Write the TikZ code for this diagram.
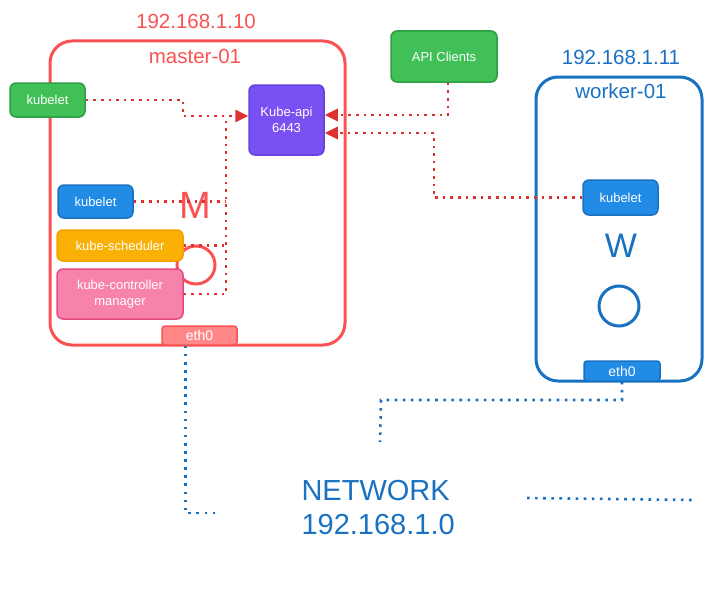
\documentclass[tikz,border=0pt]{standalone}
\usepackage{fontspec}
\setmainfont{Liberation Sans}
\usetikzlibrary{arrows.meta}

\definecolor{hostred}{HTML}{FA5252}
\definecolor{linkred}{HTML}{E03131}
\definecolor{hostblue}{HTML}{1971C2}
\definecolor{boxgreen}{HTML}{40C057}
\definecolor{edgegreen}{HTML}{2F9E44}
\definecolor{boxpurple}{HTML}{7950F2}
\definecolor{edgepurple}{HTML}{6741D9}
\definecolor{boxblue}{HTML}{228BE6}
\definecolor{boxorange}{HTML}{FAB005}
\definecolor{edgeorange}{HTML}{F59F00}
\definecolor{boxpink}{HTML}{F783AC}
\definecolor{edgepink}{HTML}{E64980}
\definecolor{ethred}{HTML}{FF8787}

\tikzset{
  comp/.style={rounded corners=6pt, line width=1.5pt, text=white, inner sep=0pt,
    align=center, font=\fontsize{13}{16}\selectfont},
  host/.style={rounded corners=22pt, line width=3pt, inner sep=0pt},
  hostlabel/.style={font=\fontsize{20.5}{23}\selectfont},
  link/.style={draw=linkred, line width=2.6pt, dash pattern=on 2.6pt off 5pt},
  tip/.style={-{Triangle[length=13pt,width=12pt]}},
  net/.style={draw=hostblue, line width=2.6pt, dash pattern=on 2.6pt off 5.5pt}
}

\begin{document}
\begin{tikzpicture}[x=1pt,y=-1pt]
  \useasboundingbox (0,0) rectangle (711,602);

  % master-01
  \node[host, draw=hostred, minimum width=295, minimum height=304](master) at (197.5,193) {};
  \node[hostlabel, text=hostred](masterip)   at (196,21) {192.168.1.10};
  \node[hostlabel, text=hostred](mastername) at (195,56) {master-01};
  \node[font=\fontsize{38}{40}\selectfont, text=hostred](mletter) at (195,205) {M};
  \node[circle, draw=hostred, line width=3pt, minimum size=38](mcircle) at (196,265) {};

  \node[comp, fill=boxgreen,  draw=edgegreen,  minimum width=75,  minimum height=34](kubeletG) at (47.5,100) {kubelet};
  \node[comp, fill=boxpurple, draw=edgepurple, minimum width=75,  minimum height=70](kubeapi)  at (286.5,120) {Kube-api\\6443};
  \node[comp, fill=boxblue,   draw=hostblue,   minimum width=75,  minimum height=33](kubeletB) at (95.5,201.5) {kubelet};
  \node[comp, fill=boxorange, draw=edgeorange, minimum width=126, minimum height=31](sched)    at (120,245.5) {kube-scheduler};
  \node[comp, fill=boxpink,   draw=edgepink,   minimum width=126, minimum height=50](ctrl)     at (120,294) {kube-controller\\manager};
  \node[comp, rounded corners=3pt, fill=ethred, draw=hostred, minimum width=75, minimum height=19,
        font=\fontsize{14}{16}\selectfont](ethM) at (199.5,335.5) {eth0};

  % worker-01
  \node[host, draw=hostblue, minimum width=166, minimum height=304](worker) at (619,229) {};
  \node[hostlabel, text=hostblue](workerip)   at (621,57) {192.168.1.11};
  \node[hostlabel, text=hostblue](workername) at (621,91) {worker-01};
  \node[font=\fontsize{34}{36}\selectfont, text=hostblue](wletter) at (621,246) {W};
  \node[circle, draw=hostblue, line width=3pt, minimum size=40](wcircle) at (619,306) {};

  \node[comp, fill=boxblue, draw=hostblue, minimum width=75, minimum height=35](kubeletW) at (620.5,197.5) {kubelet};
  \node[comp, rounded corners=3pt, fill=boxblue, draw=hostblue, minimum width=76, minimum height=20,
        font=\fontsize{14}{16}\selectfont](ethW) at (622,371) {eth0};

  \node[comp, fill=boxgreen, draw=edgegreen, minimum width=106, minimum height=51](apiclients) at (444,56.5) {API Clients};

  \node[align=left, anchor=west, text=hostblue, font=\fontsize{29}{34}\selectfont](network) at (298,508) {NETWORK\\192.168.1.0};

  \coordinate (bendG) at (183,116);
  \coordinate (trunk) at (226,116);
  \coordinate (bendW) at (434,165);
  \coordinate (netA)  at (215,513);
  \coordinate (netB)  at (381,400);
  \coordinate (netC)  at (380,442);
  \coordinate (netD)  at (527,498);
  \coordinate (netE)  at (694,500);

  \draw[link, tip] (kubeletG.east) -| (bendG) -- ([yshift=4pt]kubeapi.west);
  \draw[link] (kubeletB.east) -- (kubeletB.east -| trunk);
  \draw[link] (sched.east) -- (sched.east -| trunk);
  \draw[link] (ctrl.east) -| (trunk);
  \draw[link, tip] ([xshift=4pt]apiclients.south) |- ([yshift=5pt]kubeapi.east);
  \draw[link, tip] (kubeletW.west) -| (bendW) |- ([yshift=-13pt]kubeapi.east);

  \draw[net] ([xshift=-14pt]ethM.south) |- (netA);
  \draw[net] (ethW.south) |- (netB) -- (netC);
  \draw[net] (netD) -- (netE);
\end{tikzpicture}
\end{document}
